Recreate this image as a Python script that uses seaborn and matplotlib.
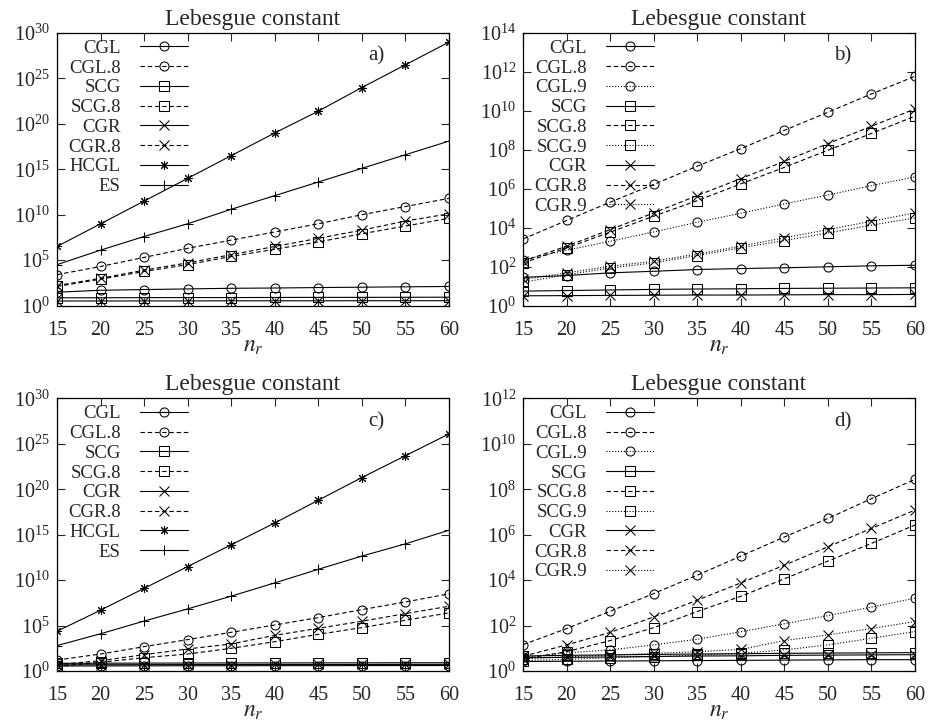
import matplotlib
matplotlib.use("Agg")
import matplotlib.pyplot as plt
import numpy as np
import seaborn as sns
from matplotlib.ticker import FixedLocator, LogFormatterSciNotation, NullLocator

# polynomial degree on the x axis
nr = [15, 20, 25, 30, 35, 40, 45, 50, 55, 60]

# values are log10 of the Lebesgue constant
# panel a)
a_cgl = [1.47, 1.68, 1.76, 1.83, 1.90, 1.93, 1.98, 2.02, 2.06, 2.10]
a_cgl8 = [3.40, 4.30, 5.30, 6.30, 7.20, 8.10, 9.00, 10.0, 10.9, 11.8]
a_scg = [0.85, 0.86, 0.87, 0.88, 0.88, 0.89, 0.90, 0.90, 0.91, 0.92]
a_scg8 = [2.10, 2.90, 3.75, 4.50, 5.40, 6.20, 7.00, 7.90, 8.75, 9.60]
a_cgr = [0.50, 0.50, 0.51, 0.51, 0.52, 0.52, 0.52, 0.53, 0.53, 0.53]
a_cgr8 = [2.20, 3.00, 3.90, 4.70, 5.60, 6.50, 7.40, 8.30, 9.30, 10.1]
a_hcgl = [6.50, 9.00, 11.5, 14.0, 16.5, 19.0, 21.4, 24.0, 26.5, 29.0]
a_es = [4.50, 6.10, 7.60, 9.00, 10.6, 12.1, 13.6, 15.1, 16.6, 18.1]

# panel b)
b_cgl = [1.45, 1.54, 1.68, 1.76, 1.85, 1.90, 1.94, 1.99, 2.04, 2.07]
b_cgl8 = [3.42, 4.37, 5.31, 6.22, 7.16, 8.06, 9.00, 9.93, 10.87, 11.78]
b_cgl9 = [2.36, 2.84, 3.30, 3.78, 4.28, 4.74, 5.22, 5.68, 6.16, 6.61]
b_scg = [0.74, 0.77, 0.80, 0.83, 0.85, 0.86, 0.88, 0.89, 0.90, 0.91]
b_scg8 = [2.19, 2.96, 3.77, 4.59, 5.39, 6.25, 7.10, 7.98, 8.84, 9.73]
b_scg9 = [1.20, 1.58, 1.93, 2.19, 2.57, 2.96, 3.34, 3.73, 4.13, 4.50]
b_cgr = [0.50, 0.51, 0.52, 0.53, 0.54, 0.54, 0.55, 0.56, 0.56, 0.57]
b_cgr8 = [2.28, 3.05, 3.90, 4.76, 5.65, 6.52, 7.41, 8.32, 9.21, 10.1]
b_cgr9 = [1.34, 1.68, 2.02, 2.28, 2.65, 3.05, 3.48, 3.90, 4.33, 4.76]

# panel c)
c_cgl = [0.55, 0.56, 0.57, 0.58, 0.58, 0.59, 0.59, 0.60, 0.60, 0.60]
c_cgl8 = [1.21, 1.87, 2.68, 3.46, 4.26, 5.07, 5.88, 6.76, 7.60, 8.50]
c_scg = [0.85, 0.86, 0.87, 0.88, 0.89, 0.89, 0.90, 0.90, 0.91, 0.91]
c_scg8 = [0.51, 0.96, 1.47, 1.87, 2.50, 3.23, 4.04, 4.78, 5.59, 6.40]
c_cgr = [0.68, 0.69, 0.70, 0.71, 0.71, 0.72, 0.72, 0.72, 0.73, 0.73]
c_cgr8 = [0.70, 1.14, 1.80, 2.43, 2.98, 3.93, 4.70, 5.48, 6.32, 7.13]
c_hcgl = [4.37, 6.70, 9.10, 11.5, 13.9, 16.3, 18.8, 21.3, 23.7, 26.1]
c_es = [2.80, 4.10, 5.50, 6.84, 8.24, 9.70, 11.2, 12.65, 14.0, 15.5]

# panel d)
d_cgl = [0.42, 0.43, 0.44, 0.45, 0.46, 0.47, 0.48, 0.49, 0.50, 0.50]
d_cgl8 = [1.16, 1.87, 2.63, 3.41, 4.22, 5.06, 5.90, 6.72, 7.59, 8.44]
d_cgl9 = [0.60, 0.80, 0.93, 1.15, 1.40, 1.73, 2.08, 2.44, 2.81, 3.21]
d_scg = [0.66, 0.69, 0.71, 0.73, 0.75, 0.76, 0.78, 0.79, 0.80, 0.81]
d_scg8 = [0.53, 0.85, 1.34, 1.91, 2.62, 3.29, 4.06, 4.84, 5.62, 6.43]
d_scg9 = [0.46, 0.51, 0.59, 0.63, 0.70, 0.78, 0.93, 1.15, 1.44, 1.74]
d_cgr = [0.58, 0.60, 0.62, 0.64, 0.66, 0.67, 0.69, 0.70, 0.71, 0.72]
d_cgr8 = [0.65, 1.15, 1.70, 2.38, 3.12, 3.88, 4.66, 5.47, 6.28, 7.09]
d_cgr9 = [0.55, 0.63, 0.70, 0.78, 0.85, 0.95, 1.34, 1.59, 1.87, 2.18]

panels = [
    ("a)", 30, 5, [("CGL", a_cgl), ("CGL.8", a_cgl8), ("SCG", a_scg), ("SCG.8", a_scg8),
                   ("CGR", a_cgr), ("CGR.8", a_cgr8), ("HCGL", a_hcgl), ("ES", a_es)]),
    ("b)", 14, 2, [("CGL", b_cgl), ("CGL.8", b_cgl8), ("CGL.9", b_cgl9), ("SCG", b_scg),
                   ("SCG.8", b_scg8), ("SCG.9", b_scg9), ("CGR", b_cgr), ("CGR.8", b_cgr8),
                   ("CGR.9", b_cgr9)]),
    ("c)", 30, 5, [("CGL", c_cgl), ("CGL.8", c_cgl8), ("SCG", c_scg), ("SCG.8", c_scg8),
                   ("CGR", c_cgr), ("CGR.8", c_cgr8), ("HCGL", c_hcgl), ("ES", c_es)]),
    ("d)", 12, 2, [("CGL", d_cgl), ("CGL.8", d_cgl8), ("CGL.9", d_cgl9), ("SCG", d_scg),
                   ("SCG.8", d_scg8), ("SCG.9", d_scg9), ("CGR", d_cgr), ("CGR.8", d_cgr8),
                   ("CGR.9", d_cgr9)]),
]

MARKERS = {"CGL": "o", "SCG": "s", "CGR": "x", "HCGL": (8, 2, 0), "ES": "+"}
LINESTYLES = {"": "-", "8": "--", "9": ":"}

sns.set_theme(style="ticks")
plt.rcParams["font.family"] = ["Liberation Serif", "DejaVu Serif"]
plt.rcParams["mathtext.fontset"] = "stix"
plt.rcParams["lines.dashed_pattern"] = [4.0, 2.5]
plt.rcParams["lines.dotted_pattern"] = [1.0, 1.6]

fig, axes = plt.subplots(2, 2, figsize=(9.3, 7.27), dpi=100)
fig.subplots_adjust(left=0.0613, right=0.9839, top=0.9546, bottom=0.077,
                    wspace=0.189, hspace=0.341)

for ax, (tag, ytop, ystep, series) in zip(axes.flatten(), panels):
    for name, logvals in series:
        base, _, suffix = name.partition(".")
        sns.lineplot(
            x=nr,
            y=10 ** np.array(logvals),
            ax=ax,
            color="black",
            linestyle=LINESTYLES[suffix],
            lw=0.8,
            marker=MARKERS[base],
            markersize=6.5,
            markerfacecolor="none",
            markeredgecolor="black",
            markeredgewidth=0.75,
            label=name,
        )
    ax.set_yscale("log")
    ax.set_xlim(15, 60)
    ax.set_ylim(1, 10.0 ** ytop)
    ax.set_xticks(nr)
    ax.yaxis.set_major_locator(FixedLocator([10.0 ** k for k in range(0, ytop + 1, ystep)]))
    ax.yaxis.set_major_formatter(LogFormatterSciNotation())
    ax.yaxis.set_minor_locator(NullLocator())
    ax.tick_params(direction="in", top=True, right=True, length=6, width=0.8,
                   labelsize=14.5)
    ax.tick_params(axis="x", pad=11)
    ax.tick_params(axis="y", pad=5)
    for sp in ax.spines.values():
        sp.set_linewidth(0.9)
        sp.set_color("black")
    ax.set_title("Lebesgue constant", fontsize=17, pad=6)
    ax.set_xlabel("$n_r$", fontsize=17, labelpad=-3)
    ax.set_ylabel("")
    ax.text(0.815, 0.915, tag, transform=ax.transAxes, ha="center", va="center", fontsize=15)

    leg = ax.legend(loc="upper right", bbox_to_anchor=(0.335, 0.975), frameon=False,
                    markerfirst=False, handlelength=2.6, handletextpad=1.0,
                    labelspacing=0.14, borderpad=0, borderaxespad=0, fontsize=13.5)
    # gnuplot style: labels right aligned against the line samples
    for col in leg._legend_handle_box.get_children():
        col.align = "right"

fig.savefig("out.png", dpi=100)
